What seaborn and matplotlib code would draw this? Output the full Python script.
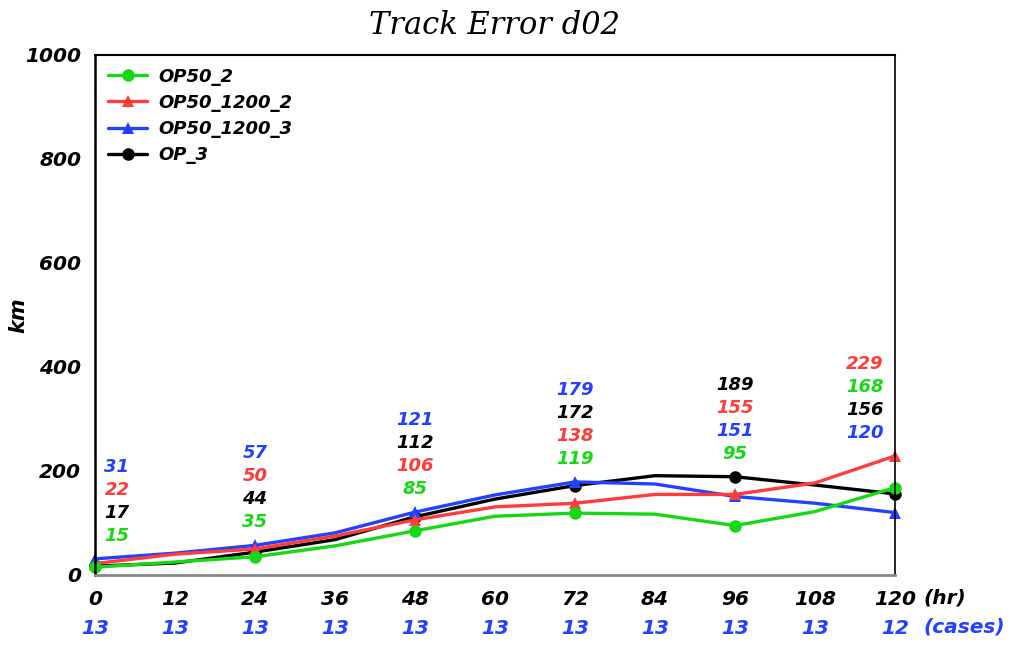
import matplotlib
matplotlib.use("Agg")
import matplotlib.pyplot as plt
import seaborn as sns

# forecast hours and track errors (km)
HOURS = [0, 12, 24, 36, 48, 60, 72, 84, 96, 108, 120]
OP50_2 = [15, 25, 35, 56, 85, 113, 119, 117, 95, 122, 168]
OP50_1200_2 = [22, 40, 50, 75, 106, 131, 138, 155, 155, 177, 229]
OP50_1200_3 = [31, 42, 57, 81, 121, 154, 179, 175, 151, 138, 120]
OP_3 = [17, 23, 44, 68, 112, 146, 172, 191, 189, 173, 156]
CASES = [13, 13, 13, 13, 13, 13, 13, 13, 13, 13, 12]

SERIES = [
    ("OP50_2", OP50_2, "#14d914", "o"),
    ("OP50_1200_2", OP50_1200_2, "#ff3b3b", "^"),
    ("OP50_1200_3", OP50_1200_3, "#2342ff", "^"),
    ("OP_3", OP_3, "black", "o"),
]

sns.set_theme(style="white")
plt.rcParams["font.family"] = ["DejaVu Sans"]
plt.rcParams["text.color"] = "black"
plt.rcParams["xtick.labelcolor"] = "black"
plt.rcParams["ytick.labelcolor"] = "black"

fig = plt.figure(figsize=(10.12, 6.49), dpi=100)
ax = fig.add_axes([95 / 1012, 1 - 575 / 649, 800 / 1012, 520 / 649])

# draw black first so the coloured series sit on top
for name, vals, color, marker in reversed(SERIES):
    sns.lineplot(x=HOURS, y=vals, color=color, marker=marker, markevery=2,
                 markersize=9, markeredgewidth=0, linewidth=2.4, label=name,
                 clip_on=False, ax=ax)

# stacked value labels above each marked hour
lab_font = dict(fontsize=13, fontweight="bold", fontstyle="italic")
for i in range(0, len(HOURS), 2):
    entries = sorted(((vals[i], color) for _, vals, color, _ in SERIES), reverse=True)
    top = entries[0][0]
    dx = 22 if i == 0 else (-30 if i == len(HOURS) - 1 else 0)
    for k, (v, color) in enumerate(entries):
        ax.annotate(str(v), xy=(HOURS[i], top), xytext=(dx, 92 - 23 * k),
                    textcoords="offset pixels", ha="center", va="center",
                    color=color, **lab_font)

ax.set_xlim(0, 120)
ax.set_ylim(0, 1000)
ax.set_xticks(HOURS)
ax.set_xticklabels([str(h) for h in HOURS])
ax.set_yticks(range(0, 1001, 200))
ax.tick_params(axis="x", direction="out", length=6, width=1.5, color="#888888",
               labelsize=14.5, pad=5)
ax.tick_params(axis="y", direction="out", length=6, width=1.5, color="black",
               labelsize=14.5, pad=4)
for lab in ax.get_xticklabels() + ax.get_yticklabels():
    lab.set_fontweight("bold")
    lab.set_fontstyle("italic")
    lab.set_color("black")

ax.spines["bottom"].set_color("#888888")
ax.spines["bottom"].set_linewidth(2)
ax.spines["left"].set_color("black")
ax.spines["left"].set_linewidth(1.8)
ax.spines["top"].set_color("black")
ax.spines["top"].set_linewidth(1.5)
ax.spines["right"].set_color("black")
ax.spines["right"].set_linewidth(1.2)

ax.set_ylabel("km", fontsize=15, fontweight="bold", fontstyle="italic", color="black")
ax.yaxis.set_label_coords(-0.083, 0.5)
ax.set_xlabel("")

# unit and case counts under the x axis
ax.text(1.035, -0.045, "(hr)", transform=ax.transAxes, ha="left", va="center",
        fontsize=14.5, fontweight="bold", fontstyle="italic", color="black")
for h, c in zip(HOURS, CASES):
    ax.annotate(str(c), xy=(h, 0), xytext=(0, -53), textcoords="offset pixels",
                ha="center", va="center", color="#2342ff", **{**lab_font, "fontsize": 14.5})
ax.text(1.035, -0.1, "(cases)", transform=ax.transAxes, ha="left", va="center",
        fontsize=14.5, fontweight="bold", fontstyle="italic", color="#2342ff")

handles, labels = ax.get_legend_handles_labels()
leg = ax.legend(handles[::-1], labels[::-1], loc="upper left", frameon=False,
                handlelength=2.2, handletextpad=0.6, labelspacing=0.45,
                borderaxespad=0.3, labelcolor="black",
                prop=dict(size=13, weight="bold", style="italic"))

fig.text(495 / 1012, 1 - 25 / 649, "Track Error d02", ha="center", va="center",
         fontsize=22, fontstyle="italic", fontfamily="DejaVu Serif", color="black")

fig.savefig("out.png", dpi=100)
